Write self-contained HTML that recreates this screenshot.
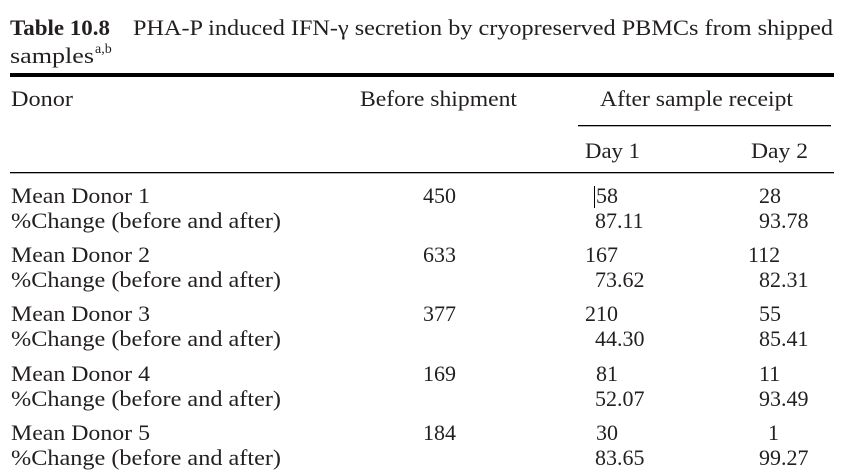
<!DOCTYPE html>
<html><head><meta charset="utf-8"><style>
html,body{margin:0;padding:0;background:#fff;}
svg{display:block;}
text{font-family:"Liberation Serif",serif;font-size:22px;fill:#231f20;}
</style></head><body>
<svg width="844" height="476" viewBox="0 0 844 476">
<text x="10" y="35" font-weight="bold" textLength="100" lengthAdjust="spacingAndGlyphs">Table 10.8</text>
<text x="133" y="35" textLength="700" lengthAdjust="spacingAndGlyphs">PHA-P induced IFN-γ secretion by cryopreserved PBMCs from shipped</text>
<text x="10" y="63" textLength="84" lengthAdjust="spacingAndGlyphs">samples</text>
<text x="95" y="53" style="font-size:14px">a,b</text>
<rect x="10" y="73" width="824" height="4" fill="#000"/>
<g lengthAdjust="spacingAndGlyphs">
<text x="11" y="106" textLength="62" lengthAdjust="spacingAndGlyphs">Donor</text>
<text x="360" y="106" textLength="157" lengthAdjust="spacingAndGlyphs">Before shipment</text>
<text x="600" y="106" textLength="193" lengthAdjust="spacingAndGlyphs">After sample receipt</text>
</g>
<rect x="578" y="125" width="253" height="1.3" fill="#000"/>
<text x="585" y="158" textLength="55" lengthAdjust="spacingAndGlyphs">Day 1</text>
<text x="751" y="158" textLength="57" lengthAdjust="spacingAndGlyphs">Day 2</text>
<rect x="10" y="172" width="824" height="1.3" fill="#000"/>
<rect x="594" y="186" width="1" height="22" fill="#000"/>
<g>
<text x="11" y="203" textLength="139" lengthAdjust="spacingAndGlyphs">Mean Donor 1</text>
<text x="11" y="228" textLength="270" lengthAdjust="spacingAndGlyphs">%Change (before and after)</text>
<text x="423" y="203">450</text><text x="596" y="203">58</text><text x="759" y="203">28</text>
<text x="595" y="228">87.11</text><text x="759" y="228">93.78</text>

<text x="11" y="262" textLength="139" lengthAdjust="spacingAndGlyphs">Mean Donor 2</text>
<text x="11" y="287" textLength="270" lengthAdjust="spacingAndGlyphs">%Change (before and after)</text>
<text x="423" y="262">633</text><text x="585" y="262">167</text><text x="748" y="262">112</text>
<text x="595" y="287">73.62</text><text x="759" y="287">82.31</text>

<text x="11" y="321" textLength="139" lengthAdjust="spacingAndGlyphs">Mean Donor 3</text>
<text x="11" y="346" textLength="270" lengthAdjust="spacingAndGlyphs">%Change (before and after)</text>
<text x="423" y="321">377</text><text x="585" y="321">210</text><text x="759" y="321">55</text>
<text x="595" y="346">44.30</text><text x="759" y="346">85.41</text>

<text x="11" y="381" textLength="139" lengthAdjust="spacingAndGlyphs">Mean Donor 4</text>
<text x="11" y="406" textLength="270" lengthAdjust="spacingAndGlyphs">%Change (before and after)</text>
<text x="423" y="381">169</text><text x="596" y="381">81</text><text x="759" y="381">11</text>
<text x="595" y="406">52.07</text><text x="759" y="406">93.49</text>

<text x="11" y="440" textLength="139" lengthAdjust="spacingAndGlyphs">Mean Donor 5</text>
<text x="11" y="465" textLength="270" lengthAdjust="spacingAndGlyphs">%Change (before and after)</text>
<text x="423" y="440">184</text><text x="596" y="440">30</text><text x="768" y="440">1</text>
<text x="595" y="465">83.65</text><text x="759" y="465">99.27</text>
</g>
</svg>
</body></html>
